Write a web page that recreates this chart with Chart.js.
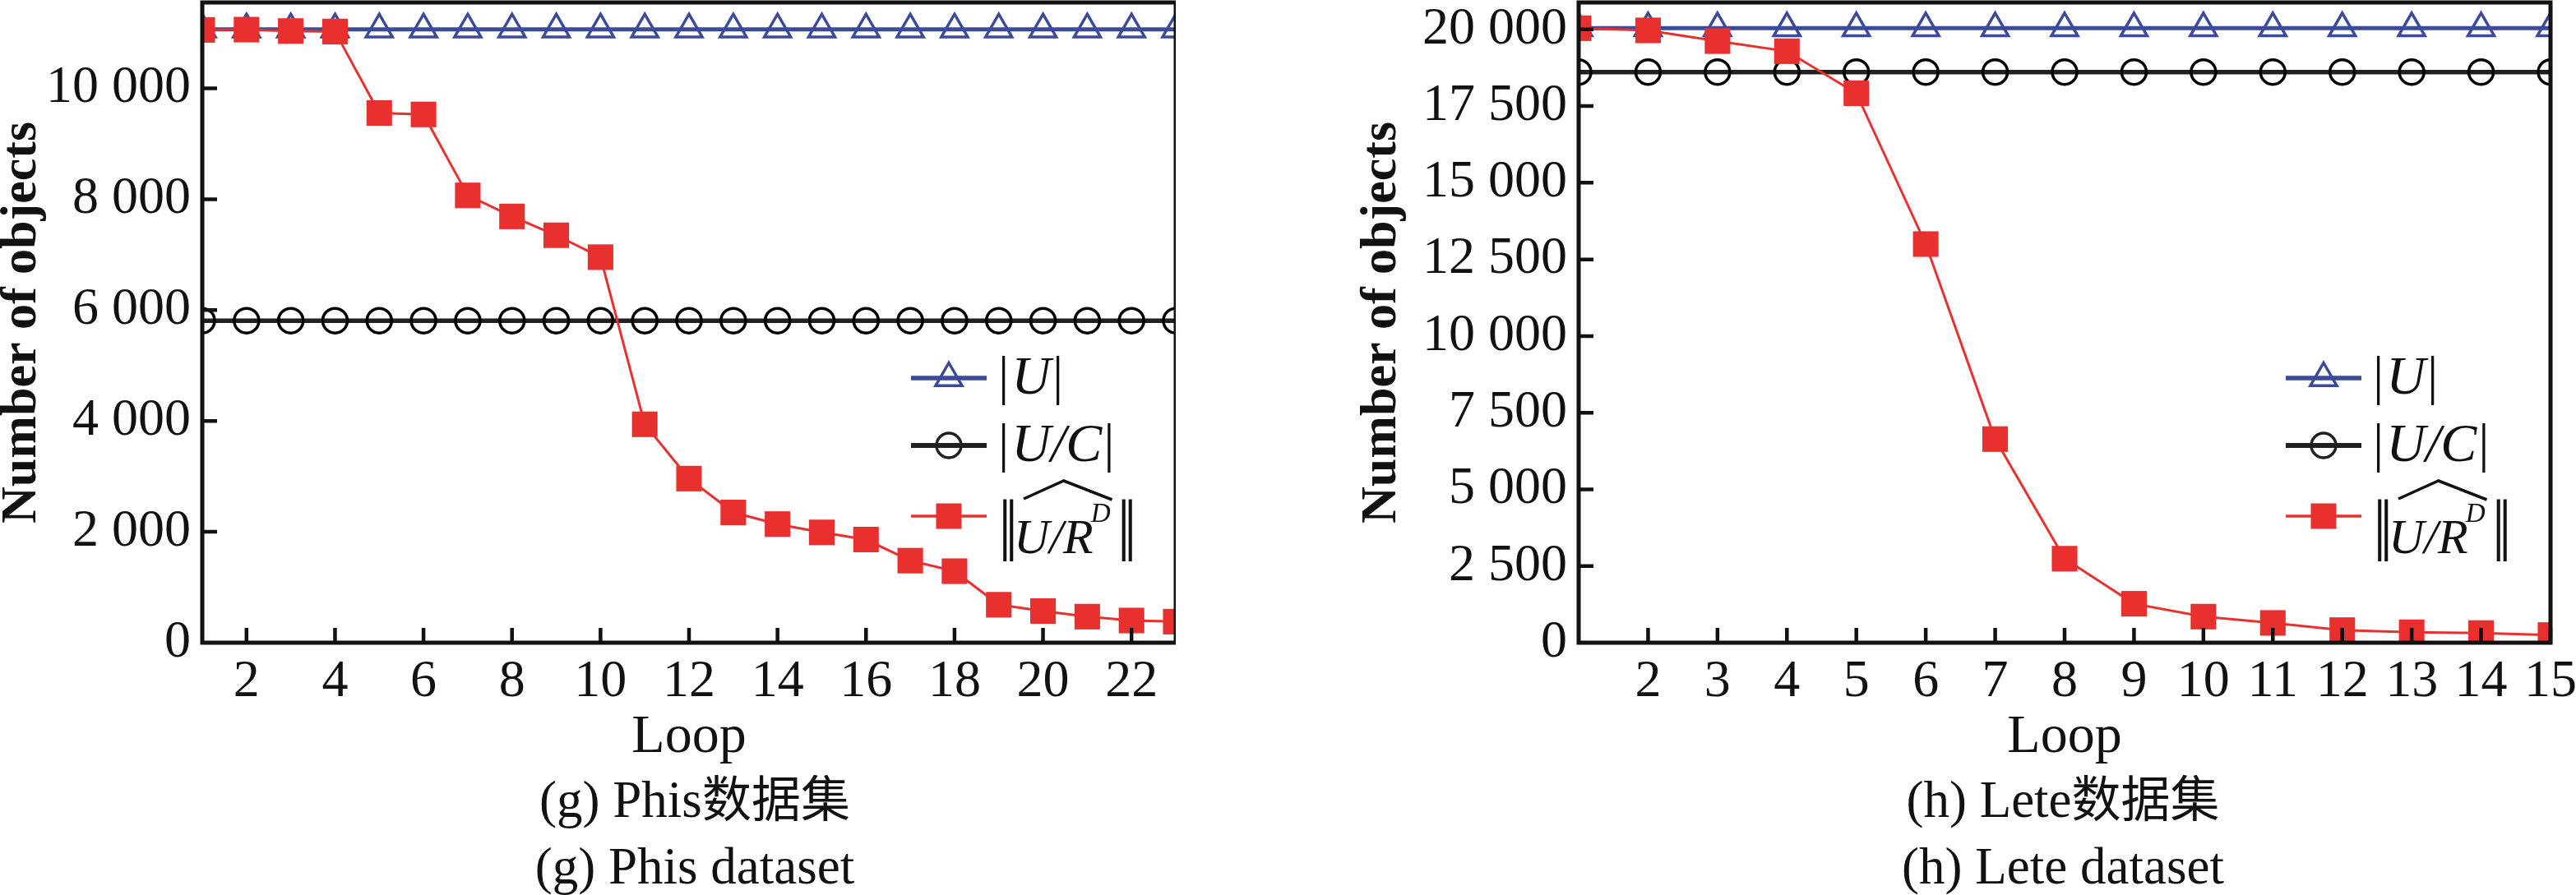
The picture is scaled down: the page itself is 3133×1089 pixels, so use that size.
<!DOCTYPE html>
<html>
<head>
<meta charset="utf-8">
<script src="https://cdn.jsdelivr.net/npm/chart.js@4.4.0/dist/chart.umd.min.js"></script>
<style>
html, body { margin: 0; padding: 0; background: #fff; width: 3133px; height: 1089px; overflow: hidden; position: relative; }
.box { position: absolute; top: 0; height: 940px; }
.cap { position: absolute; width: 800px; top: 927px; font-family: "Liberation Serif", serif; font-size: 63px; line-height: 81px; text-align: center; color: #111; }
.cap .zh { font-family: "Noto Sans CJK SC", sans-serif; font-size: 60px; }
</style>
</head>
<body>
<div class="box" style="left:-4px;width:1434px"><canvas id="phisChart"></canvas></div>
<div class="box" style="left:1650px;width:1485px"><canvas id="leteChart"></canvas></div>
<div class="cap" style="left:445px">(g) Phis<span class="zh">数据集</span><br>(g) Phis dataset</div>
<div class="cap" style="left:2109px">(h) Lete<span class="zh">数据集</span><br>(h) Lete dataset</div>
<script>
// Phis dataset (g)
const phisLoop = [1, 2, 3, 4, 5, 6, 7, 8, 9, 10, 11, 12, 13, 14, 15, 16, 17, 18, 19, 20, 21, 22, 23];
const phisU = [11065, 11065, 11065, 11065, 11065, 11065, 11065, 11065, 11065, 11065, 11065, 11065,
    11065, 11065, 11065, 11065, 11065, 11065, 11065, 11065, 11065, 11065, 11065];
const phisUC = [5810, 5810, 5810, 5810, 5810, 5810, 5810, 5810, 5810, 5810, 5810, 5810,
    5810, 5810, 5810, 5810, 5810, 5810, 5810, 5810, 5810, 5810, 5810];
const phisUR = [11055, 11060, 11035, 11025, 9555, 9530, 8070, 7690, 7350, 6955, 3940, 2960,
    2350, 2140, 1990, 1860, 1480, 1290, 685, 570, 470, 400, 380];
const phisXTicks = [2, 4, 6, 8, 10, 12, 14, 16, 18, 20, 22];
const phisYTicks = [0, 2000, 4000, 6000, 8000, 10000];
const phisYLabels = ['0', '2 000', '4 000', '6 000', '8 000', '10 000'];

// Lete dataset (h)
const leteLoop = [1, 2, 3, 4, 5, 6, 7, 8, 9, 10, 11, 12, 13, 14, 15];
const leteU = [20040, 20040, 20040, 20040, 20040, 20040, 20040, 20040, 20040, 20040, 20040, 20040, 20040, 20040, 20040];
const leteUC = [18610, 18610, 18610, 18610, 18610, 18610, 18610, 18610, 18610, 18610, 18610, 18610, 18610, 18610, 18610];
const leteUR = [20040, 19970, 19620, 19290, 17920, 13000, 6640, 2740, 1270, 850, 645, 410, 340, 315, 250];
const leteXTicks = [2, 3, 4, 5, 6, 7, 8, 9, 10, 11, 12, 13, 14, 15];
const leteYTicks = [0, 2500, 5000, 7500, 10000, 12500, 15000, 17500, 20000];
const leteYLabels = ['0', '2 500', '5 000', '7 500', '10 000', '12 500', '15 000', '17 500', '20 000'];

const BLUE = '#3c4a9c';
const DARK = '#231f1c';
const RED = '#e8312f';
const INK = '#111111';

Chart.defaults.font.family = '"Liberation Serif", "Times New Roman", serif';
Chart.defaults.color = INK;
Chart.defaults.animation = false;

// frame box with inward ticks, plus the hand-drawn legend
const framePlugin = {
    id: 'frame',
    afterDatasetsDraw(chart) {
        const ctx = chart.ctx, a = chart.chartArea;
        const xs = chart.scales.x, ys = chart.scales.y;
        ctx.save();
        ctx.strokeStyle = INK;
        ctx.lineWidth = 4.5;
        ctx.beginPath();
        xs.ticks.forEach(t => {
            const px = xs.getPixelForValue(t.value);
            ctx.moveTo(px, a.bottom);
            ctx.lineTo(px, a.bottom - 18);
        });
        ys.ticks.forEach(t => {
            if (t.value === 0) return;
            const py = ys.getPixelForValue(t.value);
            ctx.moveTo(a.left, py);
            ctx.lineTo(a.left + 18, py);
        });
        ctx.stroke();
        ctx.lineWidth = 5;
        ctx.strokeRect(a.left, a.top, a.right - a.left, a.bottom - a.top);
        ctx.restore();
        drawLegend(chart);
    }
};

function marker(ctx, style, x, y, color) {
    ctx.save();
    ctx.strokeStyle = color;
    ctx.fillStyle = color;
    if (style === 'triangle') {
        const r = 18.5;
        ctx.lineWidth = 3.5;
        ctx.beginPath();
        ctx.moveTo(x, y - r);
        ctx.lineTo(x + r * 0.866, y + r / 2);
        ctx.lineTo(x - r * 0.866, y + r / 2);
        ctx.closePath();
        ctx.stroke();
    } else if (style === 'circle') {
        ctx.lineWidth = 3.5;
        ctx.beginPath();
        ctx.arc(x, y, 15, 0, Math.PI * 2);
        ctx.stroke();
    } else {
        ctx.fillRect(x - 15.5, y - 15.5, 31, 31);
    }
    ctx.restore();
}

function drawLegend(chart) {
    const ctx = chart.ctx, a = chart.chartArea;
    const x0 = a.right - 322, x1 = x0 + 92, tx = x1 + 14;
    const rows = [a.top + 457, a.top + 539, a.top + 625];
    const ds = chart.data.datasets;
    ctx.save();
    ds.forEach((d, i) => {
        const y = rows[i];
        ctx.strokeStyle = d.borderColor;
        ctx.lineWidth = d.borderWidth + 0.5;
        ctx.beginPath();
        ctx.moveTo(x0, y);
        ctx.lineTo(x1, y);
        ctx.stroke();
        marker(ctx, d.pointStyle, (x0 + x1) / 2, y, d.borderColor);
    });
    ctx.fillStyle = INK;
    ctx.textBaseline = 'alphabetic';
    const up = '66px "Liberation Serif"';
    const it = 'italic 66px "Liberation Serif"';
    // |U| and |U/C|
    ['U', 'U/C'].forEach((txt, i) => {
        const base = rows[i] + 19;
        let x = tx;
        ctx.font = up; ctx.fillText('|', x, base); x += ctx.measureText('|').width + 3;
        ctx.font = it; ctx.fillText(txt, x, base); x += ctx.measureText(txt).width + 2;
        ctx.font = up; ctx.fillText('|', x, base);
    });
    // ||hat(U/R^D)||
    const y3 = rows[2];
    const barFont = '82px "Liberation Serif"';
    let x = tx;
    ctx.font = barFont;
    ctx.fillText('|', x, y3 + 37); ctx.fillText('|', x + 8, y3 + 37);
    x += 19;
    const hs = x;
    ctx.font = 'italic 60px "Liberation Serif"';
    ctx.fillText('U/R', x, y3 + 45);
    x += ctx.measureText('U/R').width - 3;
    ctx.font = 'italic 33px "Liberation Serif"';
    ctx.fillText('D', x, y3 + 7);
    x += ctx.measureText('D').width;
    const he = x;
    ctx.font = barFont;
    ctx.fillText('|', x + 8, y3 + 37); ctx.fillText('|', x + 16, y3 + 37);
    ctx.strokeStyle = INK;
    ctx.lineWidth = 3.5;
    ctx.beginPath();
    ctx.moveTo(hs + 12, y3 - 21);
    ctx.lineTo((hs + he) / 2 + 2, y3 - 43);
    ctx.lineTo(he + 2, y3 - 20);
    ctx.stroke();
    ctx.restore();
}

function makeChart(id, loops, u, uc, ur, xTicks, yTicks, yLabels, xMax, yMax, yWidth, padRight) {
    const ctx = document.getElementById(id);
    return new Chart(ctx, {
        type: 'line',
        data: {
            labels: loops,
            datasets: [
                {
                    label: '|U|',
                    data: loops.map((l, i) => ({ x: l, y: u[i] })),
                    borderColor: BLUE,
                    borderWidth: 5,
                    pointStyle: 'triangle',
                    pointRadius: 18.5,
                    pointBorderWidth: 3.5,
                    pointBackgroundColor: 'rgba(0,0,0,0)',
                    pointBorderColor: BLUE,
                    order: 2,
                    clip: 0
                },
                {
                    label: '|U/C|',
                    data: loops.map((l, i) => ({ x: l, y: uc[i] })),
                    borderColor: DARK,
                    borderWidth: 5.5,
                    pointStyle: 'circle',
                    pointRadius: 15,
                    pointBorderWidth: 3.5,
                    pointBackgroundColor: 'rgba(0,0,0,0)',
                    pointBorderColor: '#000',
                    order: 1,
                    clip: 0
                },
                {
                    label: '||U/R^D||',
                    data: loops.map((l, i) => ({ x: l, y: ur[i] })),
                    borderColor: RED,
                    borderWidth: 3,
                    pointStyle: 'rect',
                    pointRadius: 22,
                    pointBorderWidth: 0,
                    pointBackgroundColor: RED,
                    pointBorderColor: RED,
                    order: 0,
                    clip: 0
                }
            ]
        },
        options: {
            responsive: true,
            maintainAspectRatio: false,
            devicePixelRatio: 1,
            layout: { autoPadding: false, padding: { top: 3, right: padRight, bottom: 0, left: 0 } },
            plugins: { legend: { display: false }, tooltip: { enabled: false } },
            elements: { line: { tension: 0 } },
            scales: {
                x: {
                    type: 'linear',
                    min: 1,
                    max: xMax,
                    grid: { display: false, drawTicks: false },
                    border: { display: false },
                    afterBuildTicks: s => { s.ticks = xTicks.map(v => ({ value: v })); },
                    afterFit: s => { s.height = 158; s.paddingLeft = 0; s.paddingRight = 0; },
                    ticks: { font: { size: 64 }, padding: 10, maxRotation: 0, autoSkip: false, callback: v => String(v) },
                    title: { display: true, text: 'Loop', font: { size: 66 }, padding: { top: 0, bottom: 3 } }
                },
                y: {
                    min: 0,
                    max: yMax,
                    grid: { display: false, drawTicks: false },
                    border: { display: false },
                    afterBuildTicks: s => { s.ticks = yTicks.map(v => ({ value: v })); },
                    afterFit: s => { s.width = yWidth; s.paddingTop = 0; s.paddingBottom = 0; },
                    ticks: {
                        font: { size: 64 }, padding: 14, autoSkip: false,
                        callback: v => { const k = yTicks.indexOf(v); return k < 0 ? '' : yLabels[k]; }
                    },
                    title: { display: true, text: 'Number of objects', font: { size: 62, weight: 'bold', lineHeight: 1.0 }, padding: { top: 0, bottom: 0 } }
                }
            }
        },
        plugins: [framePlugin]
    });
}

makeChart('phisChart', phisLoop, phisU, phisUC, phisUR, phisXTicks, phisYTicks, phisYLabels, 23, 11550, 250, 0);
makeChart('leteChart', leteLoop, leteU, leteUC, leteUR, leteXTicks, leteYTicks, leteYLabels, 15, 20880, 270, 33);
</script>
</body>
</html>
